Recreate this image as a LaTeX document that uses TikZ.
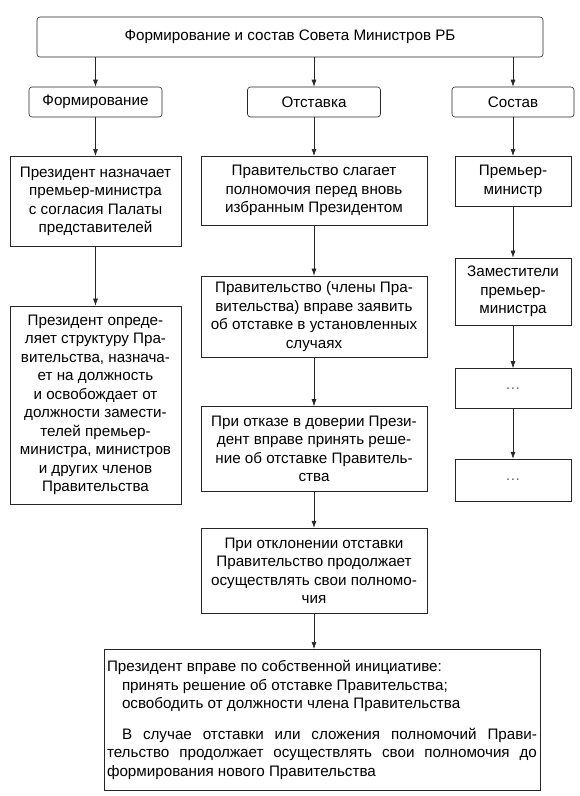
\documentclass[tikz,border=0pt]{standalone}
\usepackage{fontspec}
\setmainfont{Liberation Sans}
\usepackage{tikz}
\usetikzlibrary{arrows.meta,positioning}

\begin{document}
\begin{tikzpicture}[
  x=1pt, y=-1pt,
  >={Latex[length=7pt,width=5pt]},
  font=\fontsize{15.2}{18.5}\selectfont,
  box/.style={draw=black!85, fill=white, line width=0.6pt,
              inner sep=2pt, align=center},
  headbox/.style={box, rounded corners=3pt, minimum height=30pt},
  arr/.style={->, line width=0.6pt, draw=black!85},
  dots/.style={box, text=black!60}
]
  \useasboundingbox (0,0) rectangle (580,796);

  % --- Title ---
  \node[headbox, minimum width=506pt, minimum height=40pt] (title) at (290,37)
       {Формирование и состав Совета Министров РБ};

  % --- Column heads ---
  \node[headbox, minimum width=133pt] (form) at (95.5,102) {Формирование};
  \node[headbox, minimum width=133pt] (otst) at (314,102)  {Отставка};
  \node[headbox, minimum width=122pt] (sost) at (513,102)  {Состав};

  \draw[arr] (title.south -| form.north) -- (form.north);
  \draw[arr] (title.south -| otst.north) -- (otst.north);
  \draw[arr] (title.south -| sost.north) -- (sost.north);

  % --- Left column: formation ---
  \node[box, anchor=north, minimum width=171pt, minimum height=90pt] (fPres) at (95.5,156)
       {Президент назначает\\премьер-министра\\с согласия Палаты\\представителей};
  \node[box, below=59pt of fPres, minimum width=171pt, minimum height=198pt] (fStruct)
       {Президент опреде-\\ляет структуру Пра-\\вительства, назнача-\\ет на должность\\и освобождает от\\должности замести-\\телей премьер-\\министра, министров\\и других членов\\Правительства};

  \draw[arr] (form.south) -- (fPres.north);
  \draw[arr] (fPres.south) -- (fStruct.north);

  % --- Middle column: resignation ---
  \node[box, anchor=north, minimum width=226pt, minimum height=69pt] (mNew) at (314,156)
       {Правительство слагает\\полномочия перед вновь\\избранным Президентом};
  \node[box, below=50pt of mNew, minimum width=226pt, minimum height=81pt] (mClaim)
       {Правительство (члены Пра-\\вительства) вправе заявить\\об отставке в установленных\\случаях};
  \node[box, below=49pt of mClaim, minimum width=226pt, minimum height=85pt] (mTrust)
       {При отказе в доверии Прези-\\дент вправе принять реше-\\ние об отставке Правитель-\\ства};
  \node[box, below=36pt of mTrust, minimum width=226pt, minimum height=85pt] (mDecl)
       {При отклонении отставки\\Правительство продолжает\\осуществлять свои полномо-\\чия};

  \draw[arr] (otst.south) -- (mNew.north);
  \draw[arr] (mNew.south) -- (mClaim.north);
  \draw[arr] (mClaim.south) -- (mTrust.north);
  \draw[arr] (mTrust.south) -- (mDecl.north);

  % --- Right column: members ---
  \node[box, anchor=north, minimum width=116pt, minimum height=50pt] (sPrime) at (513,156)
       {Премьер-\\министр};
  \node[box, below=51pt of sPrime, minimum width=116pt, minimum height=67pt] (sDep)
       {Заместители\\премьер-\\министра};
  \node[dots, below=43pt of sDep, minimum width=116pt, minimum height=40pt] (sMoreA) {\ldots};
  \node[dots, below=50pt of sMoreA, minimum width=116pt, minimum height=42pt] (sMoreB) {\ldots};

  \draw[arr] (sost.south) -- (sPrime.north);
  \draw[arr] (sPrime.south) -- (sDep.north);
  \draw[arr] (sDep.south) -- (sMoreA.north);
  \draw[arr] (sMoreA.south) -- (sMoreB.north);

  % --- Bottom: president's powers ---
  \node[box, anchor=north, minimum width=436pt, minimum height=141pt, inner sep=3pt] (powers) at (322,649)
       {\begin{minipage}{430pt}
          Президент вправе по собственной инициативе:\\
          \hspace*{15pt}принять решение об отставке Правительства;\\
          \hspace*{15pt}освободить от должности члена Правительства\par
          \vspace{12pt}
          \hspace*{15pt}В случае отставки или сложения полномочий Прави-\linebreak
          тельство продолжает осуществлять свои полномочия до\linebreak
          формирования нового Правительства
        \end{minipage}};

  \draw[arr] (mDecl.south) -- (mDecl.south |- powers.north);
\end{tikzpicture}
\end{document}
